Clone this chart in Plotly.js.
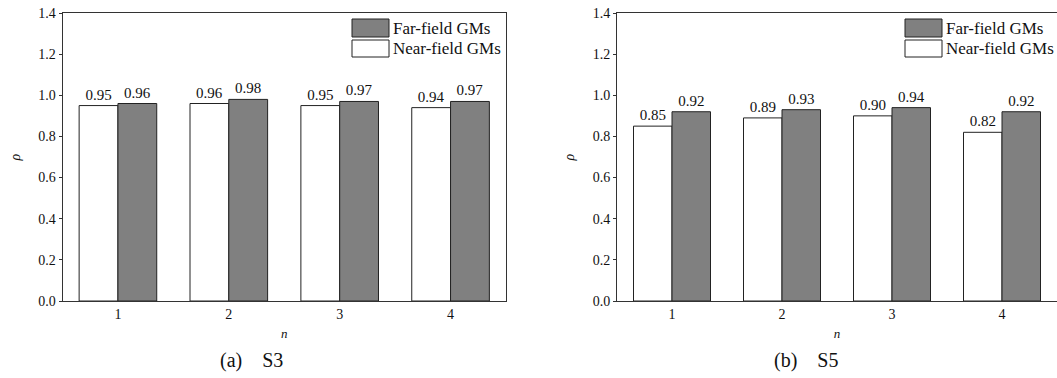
<!DOCTYPE html>
<html>
<head>
<meta charset="utf-8">
<script src="https://cdn.plot.ly/plotly-3.0.1.min.js"></script>
<style>html,body{margin:0;padding:0;background:#fff;}#chart{width:1057px;height:378px;}</style>
</head>
<body>
<div id="chart"></div>
<script>
// ---- data ----
const categories = [1, 2, 3, 4];
const seriesNames = ["Near-field GMs", "Far-field GMs"];
const s3Near = [0.95, 0.96, 0.95, 0.94];
const s3Far  = [0.96, 0.98, 0.97, 0.97];
const s5Near = [0.85, 0.89, 0.90, 0.82];
const s5Far  = [0.92, 0.93, 0.94, 0.92];
const yTicks = [0.0, 0.2, 0.4, 0.6, 0.8, 1.0, 1.2, 1.4];
const captions = ["(a)\u00a0\u00a0\u00a0\u00a0S3", "(b)\u00a0\u00a0\u00a0\u00a0S5"];

const FONT = "'Liberation Serif', 'Times New Roman', serif";
const GREY = "#808080";

function barTrace(y, name, fill, xa, ya) {
  return {
    type: "bar", x: categories, y: y, name: name,
    xaxis: xa, yaxis: ya, showlegend: false,
    marker: {color: fill, line: {color: "#222", width: 1}},
    texttemplate: "%{y:.2f}", textposition: "outside", cliponaxis: false,
    textfont: {family: FONT, size: 15, color: "#111"},
    hoverinfo: "x+y"
  };
}

const data = [
  barTrace(s3Near, seriesNames[0], "#ffffff", "x", "y"),
  barTrace(s3Far, seriesNames[1], GREY, "x", "y"),
  barTrace(s5Near, seriesNames[0], "#ffffff", "x2", "y2"),
  barTrace(s5Far, seriesNames[1], GREY, "x2", "y2")
];

function xAxis(domain, anchor) {
  return {
    domain: domain, anchor: anchor, range: [0.5, 4.5],
    tickvals: categories, ticktext: categories.map(String),
    ticks: "", showgrid: false, zeroline: false,
    showline: true, linecolor: "#333", linewidth: 1, mirror: true,
    tickfont: {family: FONT, size: 14, color: "#111"},
    title: {text: "<i>n</i>", font: {family: FONT, size: 13, color: "#111"}, standoff: 8}
  };
}
function yAxis(domain, anchor) {
  return {
    domain: domain, anchor: anchor, range: [0, 1.4],
    tickvals: yTicks, ticktext: yTicks.map(v => v.toFixed(1)),
    ticks: "outside", ticklen: 3, tickcolor: "#333",
    showgrid: false, zeroline: false,
    showline: true, linecolor: "#333", linewidth: 1, mirror: true,
    tickfont: {family: FONT, size: 14, color: "#111"},
    title: {text: "<i>ρ</i>", font: {family: FONT, size: 14, color: "#111"}, standoff: 14}
  };
}

const yDom = [1 - 301/378, 1 - 13/378];
const dom1 = [62.5/1057, 506/1057];
const dom2 = [617/1057, 1.0];

// legend boxes (paper coordinates)
function legendItems(x0px) {
  const shapes = [], anns = [];
  const items = [[seriesNames[1], GREY, 19, 37], [seriesNames[0], "#ffffff", 40, 57]];
  items.forEach(([name, fill, t, b]) => {
    shapes.push({type: "rect", xref: "paper", yref: "paper",
      x0: x0px/1057, x1: (x0px+37)/1057, y0: 1 - b/378, y1: 1 - t/378,
      fillcolor: fill, line: {color: "#222", width: 1}});
    anns.push({xref: "paper", yref: "paper", x: (x0px+39)/1057, y: 1 - ((t+b)/2)/378,
      xanchor: "left", yanchor: "middle", text: name, showarrow: false,
      font: {family: FONT, size: 17, color: "#111"}});
  });
  return {shapes, anns};
}
const L1 = legendItems(352), L2 = legendItems(905);

const layout = {
  width: 1057, height: 378,
  margin: {l: 0, r: 0, t: 0, b: 0},
  paper_bgcolor: "#fff", plot_bgcolor: "#fff",
  font: {family: FONT},
  barmode: "group", bargap: 0.3, bargroupgap: 0,
  showlegend: false,
  xaxis: xAxis(dom1, "y"), yaxis: yAxis(yDom, "x"),
  xaxis2: xAxis(dom2, "y2"), yaxis2: yAxis(yDom, "x2"),
  shapes: L1.shapes.concat(L2.shapes),
  annotations: L1.anns.concat(L2.anns).concat([
    {xref: "paper", yref: "paper", x: 251/1057, y: 1 - 360/378, xanchor: "center", yanchor: "middle",
     text: captions[0], showarrow: false, font: {family: FONT, size: 20, color: "#111"}},
    {xref: "paper", yref: "paper", x: 806/1057, y: 1 - 360/378, xanchor: "center", yanchor: "middle",
     text: captions[1], showarrow: false, font: {family: FONT, size: 20, color: "#111"}}
  ])
};

Plotly.newPlot("chart", data, layout, {displayModeBar: false, staticPlot: true});
</script>
</body>
</html>
